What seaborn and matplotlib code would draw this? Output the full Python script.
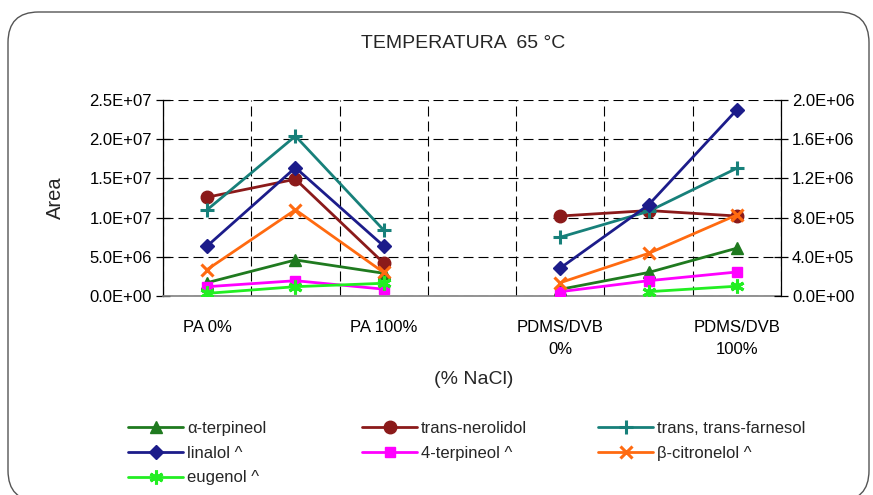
import numpy as np
import pandas as pd
import matplotlib
matplotlib.use("Agg")
import matplotlib.pyplot as plt
from matplotlib.lines import Line2D
from matplotlib.patches import FancyBboxPatch
from matplotlib.ticker import FuncFormatter
import seaborn as sns

nan = np.nan

# Categories: fibre / % NaCl (position 3 is an empty spacer between fibres)
categories = ["PA 0%", "PA 50%", "PA 100%", "",
              "PDMS/DVB 0%", "PDMS/DVB 50%", "PDMS/DVB 100%"]
tick_labels = ["PA 0%", "", "PA 100%", "", "PDMS/DVB\n0%", "", "PDMS/DVB\n100%"]
fibre = ["PA", "PA", "PA", "", "PDMS/DVB", "PDMS/DVB", "PDMS/DVB"]

# Primary axis compounds (Area)
alpha_terpineol = [1.7e6, 4.6e6, 2.9e6, nan, 8.5e5, 3.0e6, 6.1e6]
trans_nerolidol = [1.26e7, 1.49e7, 4.2e6, nan, 1.02e7, 1.09e7, 1.02e7]
trans_trans_farnesol = [1.10e7, 2.04e7, 8.4e6, nan, 7.5e6, 1.08e7, 1.63e7]

# Secondary axis compounds (^)
linalol = [5.1e5, 1.31e6, 5.1e5, nan, 2.85e5, 9.3e5, 1.9e6]
terpineol_4 = [9.5e4, 1.56e5, 7.0e4, nan, 4.4e4, 1.56e5, 2.45e5]
beta_citronelol = [2.7e5, 8.8e5, 2.4e5, nan, 1.36e5, 4.35e5, 8.27e5]
eugenol = [2.7e4, 9.5e4, 1.3e5, nan, nan, 4.4e4, 1.0e5]

primary_series = [
    ("α-terpineol", alpha_terpineol, "#1f7a1f", "^", 8.5, 1.0),
    ("trans-nerolidol", trans_nerolidol, "#8b1a1a", "o", 9.0, 1.0),
    ("trans, trans-farnesol", trans_trans_farnesol, "#17807a", "+", 10.0, 2.2),
]
secondary_series = [
    ("linalol ^", linalol, "#1c1c8a", "D", 7.5, 1.0),
    ("4-terpineol ^", terpineol_4, "#ff00ff", "s", 6.5, 1.0),
    ("β-citronelol ^", beta_citronelol, "#ff6a10", "x", 9.0, 2.2),
    ("eugenol ^", eugenol, "#22ee22", (6, 2, 0), 10.0, 2.2),
]

sns.set_theme(style="white")
plt.rcParams["font.family"] = ["Liberation Sans", "DejaVu Sans"]

W, H = 873, 495
fig = plt.figure(figsize=(W / 100, H / 100), dpi=100)
fig.patch.set_facecolor("white")

# Rounded chart frame
frame = FancyBboxPatch((8 / W, -6 / H), 861 / W, 489 / H,
                       boxstyle="round,pad=0,rounding_size=0.035",
                       transform=fig.transFigure, facecolor="none",
                       edgecolor="#555555", linewidth=1.0, mutation_aspect=W / H)
fig.patches.append(frame)

left, right, top, bottom = 163, 781, 100, 296
ax = fig.add_axes([left / W, 1 - bottom / H, (right - left) / W, (bottom - top) / H])
ax2 = ax.twinx()

positions = np.arange(len(categories))


def long_frame(values):
    df = pd.DataFrame({"pos": positions, "value": values, "group": fibre})
    return df.dropna()


handles = {}
for target, series in ((ax, primary_series), (ax2, secondary_series)):
    for name, vals, color, marker, ms, mew in series:
        sns.lineplot(data=long_frame(vals), x="pos", y="value", units="group",
                     estimator=None, ax=target, color=color, marker=marker,
                     markersize=ms, markeredgecolor=color, markerfacecolor=color,
                     markeredgewidth=mew, linewidth=2.0, legend=False, zorder=3)
        handles[name] = Line2D([], [], color=color, marker=marker, markersize=ms,
                               markeredgecolor=color, markerfacecolor=color,
                               markeredgewidth=mew, linewidth=2.0)

# Axes limits and ticks
ax.set_xlim(-0.5, 6.5)
ax.set_ylim(0, 2.5e7)
ax2.set_ylim(0, 2.0e6)
ax.set_yticks(np.arange(0, 2.5e7 + 1, 5e6))
ax2.set_yticks(np.arange(0, 2.0e6 + 1, 4e5))
sci = FuncFormatter(lambda v, p: f"{v:.1E}")
ax.yaxis.set_major_formatter(sci)
ax2.yaxis.set_major_formatter(sci)

ax.set_xticks(positions)
ax.set_xticklabels(tick_labels, linespacing=1.6)
ax.set_xticks(np.arange(-0.5, 6.6, 1.0), minor=True)
ax.tick_params(axis="x", which="major", length=0, pad=17, labelsize=12, colors="black")
ax.tick_params(axis="x", which="minor", length=5, width=0.9, direction="out", color="#808080")
ax.tick_params(axis="y", which="major", length=10, width=0.9, direction="inout",
               labelsize=12, colors="black", pad=3)
ax2.tick_params(axis="y", which="major", length=10, width=0.9, direction="inout",
                labelsize=12, colors="black", pad=3)
ax.set_xlabel("")
ax.set_ylabel("")
ax2.set_ylabel("")

# Dashed grid
grid_kw = dict(color="black", linewidth=0.8, linestyle=(0, (9, 4.5)))
ax.set_axisbelow(True)
ax.grid(axis="y", which="major", **grid_kw)
ax.grid(axis="x", which="minor", **grid_kw)
ax.grid(axis="x", which="major", visible=False)

for s in ("top", "right"):
    ax.spines[s].set_visible(False)
for s in ("top", "left", "bottom"):
    ax2.spines[s].set_visible(False)
ax.spines["left"].set_color("black")
ax.spines["left"].set_linewidth(0.9)
ax.spines["bottom"].set_color("#808080")
ax.spines["bottom"].set_linewidth(1.2)
ax2.spines["right"].set_color("black")
ax2.spines["right"].set_linewidth(0.9)
ax.set_facecolor("none")
ax2.set_facecolor("none")

# Texts
fig.text(463 / W, 1 - 43 / H, "TEMPERATURA  65 °C", ha="center", va="center", fontsize=14)
fig.text(55 / W, 1 - 198 / H, "Area", ha="center", va="center", rotation=90, fontsize=14.5)
fig.text(474 / W, 1 - 379 / H, "(% NaCl)", ha="center", va="center", fontsize=14)

# Legend laid out in three columns
columns = [
    (128, ["α-terpineol", "linalol ^", "eugenol ^"]),
    (362, ["trans-nerolidol", "4-terpineol ^"]),
    (598, ["trans, trans-farnesol", "β-citronelol ^"]),
]
for x0, names in columns:
    leg = fig.legend([handles[n] for n in names], names, loc="upper left",
                     bbox_to_anchor=(x0 / W, 1 - 421 / H), frameon=False,
                     fontsize=12, handlelength=3.3, handletextpad=0.25,
                     labelspacing=0.58, borderpad=0, borderaxespad=0)

fig.savefig("out.png", dpi=100)
